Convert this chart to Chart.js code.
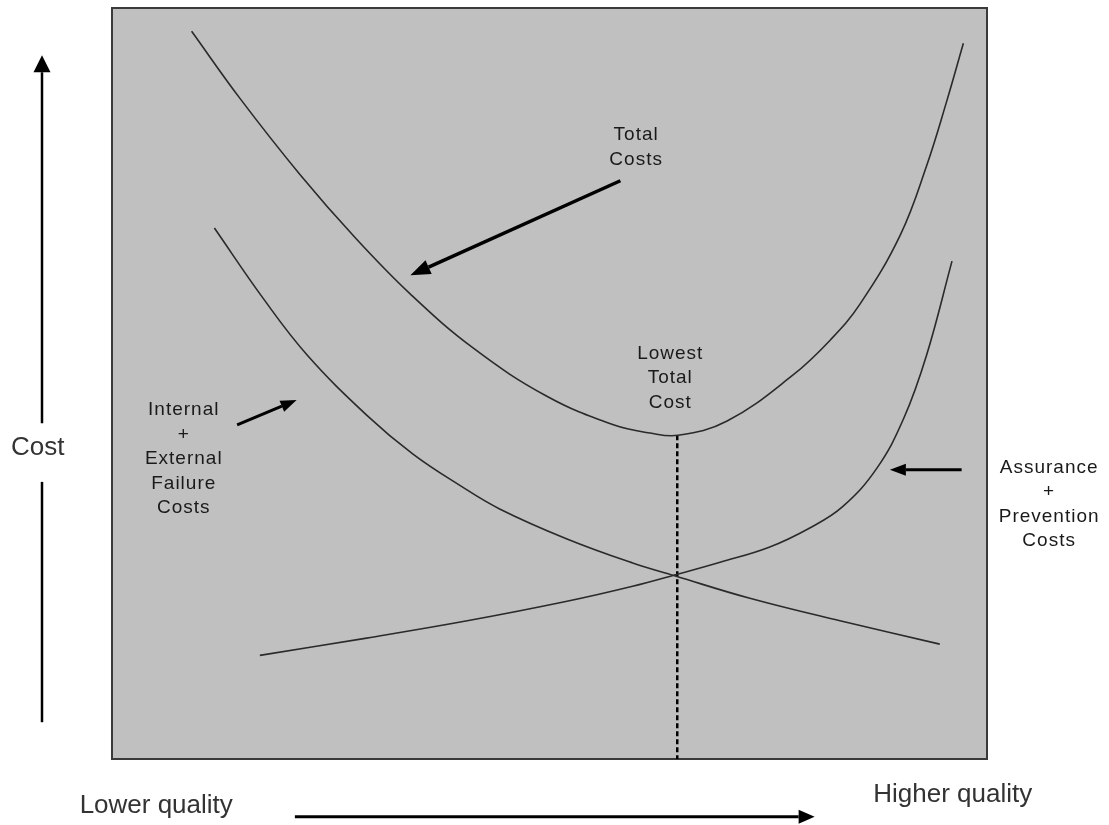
<!DOCTYPE html>
<html>

<head>
    <title>Cost of Quality</title>
    <style>
        body {
            margin: 0;
            background: #ffffff;
            font-family: "Liberation Sans", Arial, sans-serif;
        }
    </style>
    <script src="https://cdn.jsdelivr.net/npm/chart.js"></script>
</head>

<body>
    <canvas id="qualityChart" width="1109" height="825"></canvas>

    <script>
        // curves, x = quality (0-100), y = cost (0-100)
        var totalCostX = [9.1, 14.6, 21.5, 27.8, 34.1, 41.3, 49.7, 57.3, 61.5, 64.7, 70.3, 77.8, 82.1, 85.5, 90.1, 93.1, 95.4, 97.3];
        var totalCostY = [96.9, 88.0, 77.8, 69.4, 61.9, 54.7, 48.3, 44.5, 43.4, 43.1, 45.0, 51.1, 55.8, 60.6, 69.8, 79.0, 87.6, 95.3];

        var failureX = [11.7, 17.3, 22.3, 29.1, 34.4, 39.8, 44.3, 52.0, 59.5, 64.3, 72.9, 83.2, 94.6];
        var failureY = [70.7, 61.3, 53.8, 45.8, 40.6, 36.4, 33.3, 29.3, 26.1, 24.4, 21.4, 18.4, 15.3];

        var assuranceX = [16.9, 29.1, 40.6, 52.0, 59.5, 64.3, 69.5, 75.1, 79.8, 83.5, 87.4, 90.5, 93.1, 96.0];
        var assuranceY = [13.8, 16.1, 18.4, 21.0, 23.0, 24.5, 26.2, 28.2, 30.8, 33.6, 38.7, 45.4, 53.8, 66.3];

        // lowest total cost marker
        var lowestX = [64.6, 64.6];
        var lowestY = [43.1, 0];

        // text labels: lines, centre x, first baseline y
        var labelLines = [
            ['Total', 'Costs'],
            ['Lowest', 'Total', 'Cost'],
            ['Internal', '+', 'External', 'Failure', 'Costs'],
            ['Assurance', '+', 'Prevention', 'Costs']
        ];
        var labelX = [59.9, 63.8, 8.2, 107.1];
        var labelY = [82.4, 53.3, 45.8, 38.1];

        // pointer arrows: from (x1,y1) to (x2,y2)
        var arrowFromX = [58.1, 14.3, 97.1];
        var arrowFromY = [77.0, 44.5, 38.5];
        var arrowToX = [34.1, 21.1, 88.9];
        var arrowToY = [64.4, 47.8, 38.5];

        function toPoints(xs, ys) {
            return xs.map(function (x, i) {
                return { x: x, y: ys[i] };
            });
        }

        function drawArrow(ctx, x1, y1, x2, y2, width, headLen, headWidth) {
            var ang = Math.atan2(y2 - y1, x2 - x1);
            var bx = x2 - Math.cos(ang) * headLen;
            var by = y2 - Math.sin(ang) * headLen;
            ctx.save();
            ctx.strokeStyle = '#000';
            ctx.fillStyle = '#000';
            ctx.lineWidth = width;
            ctx.beginPath();
            ctx.moveTo(x1, y1);
            ctx.lineTo(bx, by);
            ctx.stroke();
            ctx.beginPath();
            ctx.moveTo(x2, y2);
            ctx.lineTo(bx + Math.sin(ang) * headWidth / 2, by - Math.cos(ang) * headWidth / 2);
            ctx.lineTo(bx - Math.sin(ang) * headWidth / 2, by + Math.cos(ang) * headWidth / 2);
            ctx.closePath();
            ctx.fill();
            ctx.restore();
        }

        var decorPlugin = {
            id: 'decor',
            beforeDatasetsDraw: function (chart) {
                var ctx = chart.ctx;
                var a = chart.chartArea;
                ctx.save();
                ctx.fillStyle = '#c0c0c0';
                ctx.fillRect(a.left, a.top, a.right - a.left, a.bottom - a.top);
                ctx.strokeStyle = '#3a3a3a';
                ctx.lineWidth = 2;
                ctx.strokeRect(a.left, a.top, a.right - a.left, a.bottom - a.top);
                ctx.restore();
            },
            afterDatasetsDraw: function (chart) {
                var ctx = chart.ctx;
                var xs = chart.scales.x;
                var ys = chart.scales.y;
                var px = function (v) { return xs.getPixelForValue(v); };
                var py = function (v) { return ys.getPixelForValue(v); };

                // labels inside / beside the plot
                ctx.save();
                ctx.fillStyle = '#1a1a1a';
                ctx.font = '19px "Liberation Sans", Arial, sans-serif';
                ctx.letterSpacing = '1px';
                ctx.textAlign = 'center';
                ctx.textBaseline = 'alphabetic';
                labelLines.forEach(function (lines, i) {
                    lines.forEach(function (t, j) {
                        ctx.fillText(t, px(labelX[i]), py(labelY[i]) + j * 24.5);
                    });
                });
                ctx.restore();

                // pointer arrows
                for (var i = 0; i < arrowFromX.length; i++) {
                    drawArrow(ctx, px(arrowFromX[i]), py(arrowFromY[i]), px(arrowToX[i]), py(arrowToY[i]),
                        i === 0 ? 3.5 : 3, i === 0 ? 20 : 16, i === 0 ? 15 : 12);
                }

                // cost axis (left) with label in the gap
                ctx.save();
                ctx.strokeStyle = '#000';
                ctx.lineWidth = 2.5;
                ctx.beginPath();
                ctx.moveTo(px(-8), py(4.9));
                ctx.lineTo(px(-8), py(36.9));
                ctx.stroke();
                ctx.restore();
                drawArrow(ctx, px(-8), py(44.7), px(-8), py(93.7), 2.5, 17, 17);

                // quality axis (bottom)
                drawArrow(ctx, px(20.9), py(-7.7), px(80.3), py(-7.7), 3, 16, 14);

                ctx.save();
                ctx.fillStyle = '#333';
                ctx.font = '26px "Liberation Sans", Arial, sans-serif';
                ctx.textBaseline = 'middle';
                ctx.textAlign = 'center';
                ctx.fillText('Cost', px(-8.5), py(41.5));
                ctx.textBaseline = 'alphabetic';
                ctx.textAlign = 'left';
                ctx.fillText('Lower quality', px(-3.7), py(-7.2));
                ctx.fillText('Higher quality', px(87.0), py(-5.7));
                ctx.restore();
            }
        };

        var curveStyle = {
            borderColor: '#2a2a2a',
            borderWidth: 1.6,
            pointRadius: 0,
            showLine: true,
            fill: false,
            tension: 0.4
        };

        new Chart(document.getElementById('qualityChart'), {
            type: 'scatter',
            data: {
                datasets: [
                    Object.assign({ label: 'Total Costs', data: toPoints(totalCostX, totalCostY) }, curveStyle),
                    Object.assign({ label: 'Internal + External Failure Costs', data: toPoints(failureX, failureY) }, curveStyle),
                    Object.assign({ label: 'Assurance + Prevention Costs', data: toPoints(assuranceX, assuranceY) }, curveStyle),
                    {
                        label: 'Lowest Total Cost',
                        data: toPoints(lowestX, lowestY),
                        borderColor: '#000',
                        borderWidth: 2.5,
                        borderDash: [5, 3],
                        pointRadius: 0,
                        showLine: true,
                        fill: false
                    }
                ]
            },
            options: {
                responsive: false,
                animation: false,
                layout: {
                    padding: { left: 112, top: 8, right: 122, bottom: 66 }
                },
                scales: {
                    x: { type: 'linear', min: 0, max: 100, display: false },
                    y: { type: 'linear', min: 0, max: 100, display: false }
                },
                plugins: {
                    legend: { display: false },
                    tooltip: { enabled: false }
                }
            },
            plugins: [decorPlugin]
        });
    </script>
</body>

</html>
